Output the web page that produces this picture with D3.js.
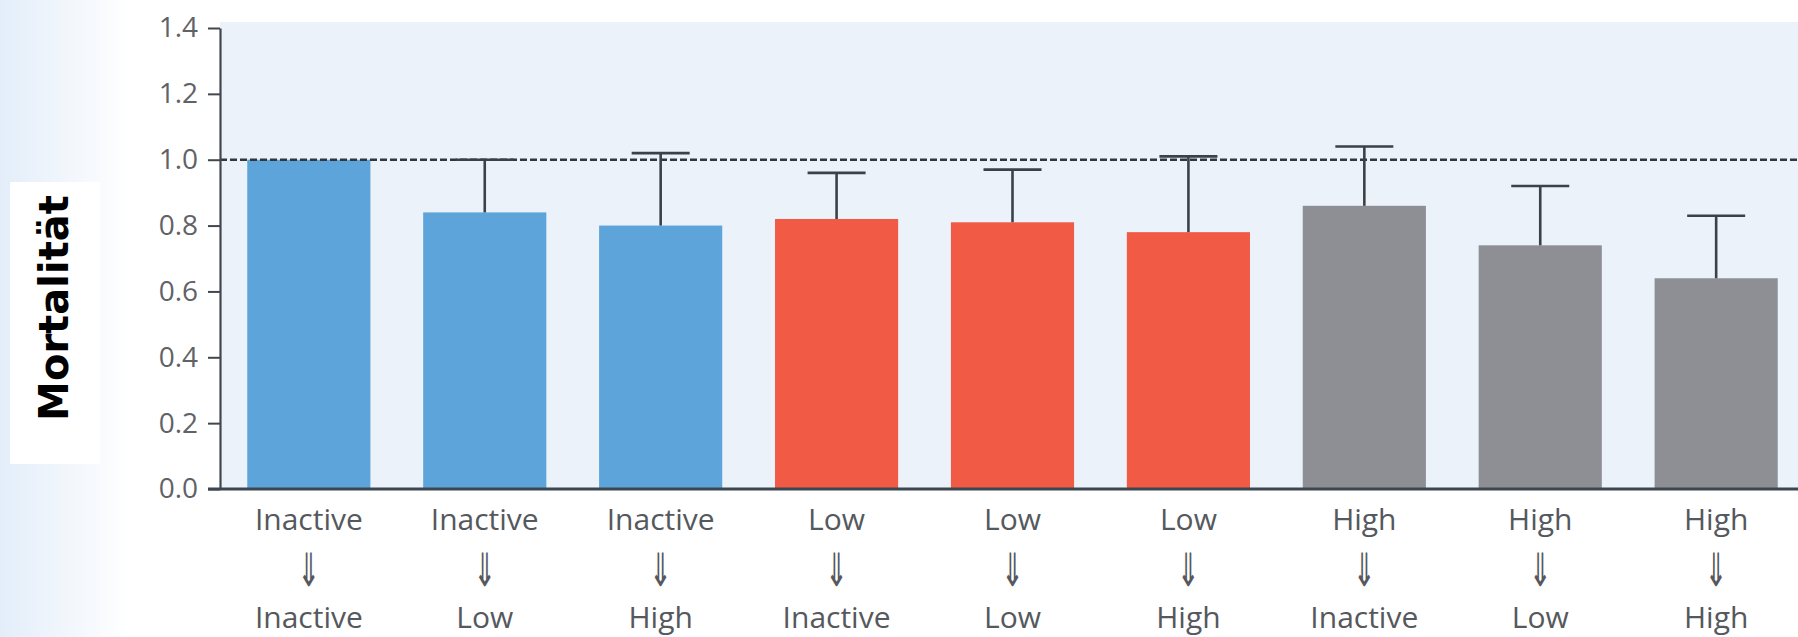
<!DOCTYPE html>
<html>
<head>
<meta charset="utf-8">
<script src="https://cdn.jsdelivr.net/npm/d3@7"></script>
<style>
  html, body { margin: 0; padding: 0; background: #ffffff; }
  svg { display: block; }
</style>
</head>
<body>
<svg id="chart" width="1798" height="637"></svg>
<script>
// Activity level at baseline and at follow-up for each group
const fromLevels = ["Inactive", "Inactive", "Inactive", "Low", "Low", "Low", "High", "High", "High"];
const toLevels   = ["Inactive", "Low", "High", "Inactive", "Low", "High", "Inactive", "Low", "High"];
// Relative mortality (hazard ratio) and upper confidence bound
const mortality  = [1.00, 0.84, 0.80, 0.82, 0.81, 0.78, 0.86, 0.74, 0.64];
const upperCI    = [null, 1.00, 1.02, 0.96, 0.97, 1.01, 1.04, 0.92, 0.83];
const yTicks     = [0.0, 0.2, 0.4, 0.6, 0.8, 1.0, 1.2, 1.4];
const referenceValue = 1.0;
const yTitle = "Mortalität";

const groupColors = { Inactive: "#5ca4d9", Low: "#f15a45", High: "#8e8f94" };

const W = 1798, H = 637;
const svg = d3.select("#chart");

// soft tint along the left edge of the page
const defs = svg.append("defs");
const grad = defs.append("linearGradient").attr("id", "edgeTint")
  .attr("x1", "0").attr("x2", "1").attr("y1", "0").attr("y2", "0");
grad.append("stop").attr("offset", "0").attr("stop-color", "#e3edf9");
grad.append("stop").attr("offset", "1").attr("stop-color", "#ffffff");
svg.append("rect").attr("x", 0).attr("y", 0).attr("width", 130).attr("height", H)
  .attr("fill", "url(#edgeTint)");

const axisX = 220;
const ids = d3.range(mortality.length);

const y = d3.scaleLinear().domain([0, 1.4]).range([489, 28]);
const x = d3.scaleBand().domain(ids).range([axisX, 1805])
  .paddingInner(0.3).paddingOuter(0.155);

// plot panel
svg.append("rect")
  .attr("x", axisX).attr("y", y(1.4) - 6)
  .attr("width", W - axisX).attr("height", y(0) - y(1.4) + 6)
  .attr("fill", "#ebf2fa");

// bars
svg.append("g").selectAll("rect").data(ids).join("rect")
  .attr("x", i => x(i))
  .attr("y", i => y(mortality[i]))
  .attr("width", x.bandwidth())
  .attr("height", i => y(0) - y(mortality[i]))
  .attr("fill", i => groupColors[fromLevels[i]]);

// reference line at 1.0
svg.append("line")
  .attr("x1", axisX).attr("x2", W)
  .attr("y1", y(referenceValue)).attr("y2", y(referenceValue))
  .attr("stroke", "#33373d").attr("stroke-width", 2.6)
  .attr("stroke-dasharray", "7,3");

// error bars (upper whisker only)
const errG = svg.append("g").attr("stroke", "#3c4148").attr("stroke-width", 2.6);
ids.filter(i => upperCI[i] != null).forEach(i => {
  const cx = x(i) + x.bandwidth() / 2;
  errG.append("line").attr("x1", cx).attr("x2", cx)
    .attr("y1", y(mortality[i])).attr("y2", y(upperCI[i]));
  errG.append("line").attr("x1", cx - 29).attr("x2", cx + 29)
    .attr("y1", y(upperCI[i])).attr("y2", y(upperCI[i]));
});

// y axis
const yAxis = svg.append("g").attr("transform", `translate(${axisX},0)`)
  .call(d3.axisLeft(y).tickValues(yTicks).tickFormat(d3.format(".1f"))
    .tickSize(12).tickSizeOuter(0).tickPadding(10));
yAxis.select(".domain").attr("stroke", "#43474d").attr("stroke-width", 2.2);
yAxis.selectAll(".tick line").attr("stroke", "#43474d").attr("stroke-width", 2);
yAxis.selectAll(".tick text")
  .attr("font-family", "'Open Sans', sans-serif").attr("font-size", 28)
  .attr("fill", "#5f6267");

// x axis baseline
const xAxis = svg.append("g").attr("transform", `translate(0,${y(0)})`)
  .call(d3.axisBottom(x).tickSize(0).tickFormat(""));
xAxis.select(".domain").attr("d", `M${axisX - 12},0H${W}`)
  .attr("stroke", "#3c4650").attr("stroke-width", 2.8);

// category labels: from level, arrow, to level
const labG = svg.append("g")
  .attr("font-family", "'Open Sans', sans-serif").attr("fill", "#55585d")
  .attr("text-anchor", "middle");
ids.forEach(i => {
  const cx = x(i) + x.bandwidth() / 2;
  labG.append("text").attr("x", cx).attr("y", 530).attr("font-size", 30).text(fromLevels[i]);
  labG.append("text").attr("transform", `translate(${cx},586) scale(0.6,1)`)
    .attr("font-family", "'DejaVu Sans', sans-serif").attr("font-size", 46).text("⇓");
  labG.append("text").attr("x", cx).attr("y", 628).attr("font-size", 30).text(toLevels[i]);
});

// y title on white card
svg.append("rect").attr("x", 10).attr("y", 182).attr("width", 90).attr("height", 282)
  .attr("fill", "#ffffff");
svg.append("text")
  .attr("transform", "translate(68,308) rotate(-90)")
  .attr("text-anchor", "middle")
  .attr("font-family", "'DejaVu Sans', sans-serif").attr("font-weight", "bold")
  .attr("font-size", 40).attr("fill", "#000000")
  .text(yTitle);
</script>
</body>
</html>
